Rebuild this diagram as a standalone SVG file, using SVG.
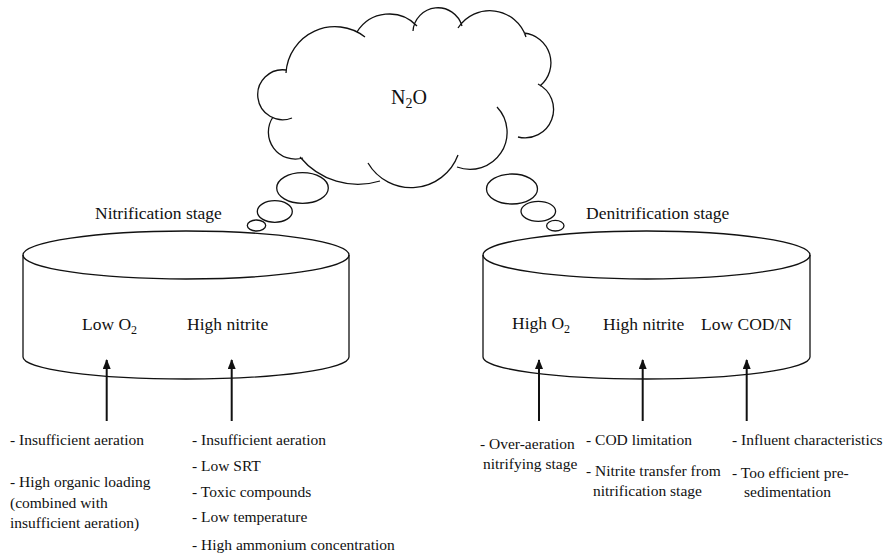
<svg xmlns="http://www.w3.org/2000/svg" width="887" height="556" viewBox="0 0 887 556">
<defs>
<style>
.ln{fill:none;stroke:#111;stroke-width:1.3}
.t{font-family:"Liberation Serif","Times New Roman",serif;fill:#111}
.lb{font-size:17.5px}
.sm{font-size:15.5px}
.ar{stroke:#111;stroke-width:2;fill:none}
</style>
<marker id="ah" viewBox="0 0 10 8" refX="9" refY="4" markerWidth="10" markerHeight="8" markerUnits="userSpaceOnUse" orient="auto">
<path d="M0,0 L10,4 L0,8 z" fill="#111"/>
</marker>
</defs>
<rect width="887" height="556" fill="#fff"/>
<g id="cloud">
<path class="ln" d="M286,73 A49,49 0 0 1 365,37 M357,32 A38,38 0 0 1 417,26 M413,31 A25,25 0 0 1 462,26 M458,28 A38,38 0 0 1 526,37 M524,33 A30,30 0 0 1 540,86 M538,84 A28.5,28.5 0 0 1 518,137 M497,107 A37,37 0 0 1 457,167 M458,155 A50,50 0 0 1 368,163 M380,181 A75,75 0 0 1 300,157 M303,158 A27,27 0 0 1 273,117 M292,118 A25,25 0 1 1 286,70"/>
<text class="t" x="391" y="104" font-size="20">N<tspan font-size="14" dy="4">2</tspan><tspan dy="-4">O</tspan></text>
</g>
<g id="bubbles-left">
<ellipse class="ln" cx="302.5" cy="188" rx="25.8" ry="15.3"/>
<ellipse class="ln" cx="274.8" cy="211.5" rx="17.5" ry="10.8"/>
<ellipse class="ln" cx="256.5" cy="225.5" rx="9.2" ry="5.5"/>
</g>
<g id="bubbles-right">
<ellipse class="ln" cx="512" cy="189" rx="25.5" ry="15"/>
<ellipse class="ln" cx="538.3" cy="211.3" rx="17.3" ry="10"/>
<ellipse class="ln" cx="555.3" cy="225.7" rx="8.7" ry="5.3"/>
</g>
<g id="nitrification">
<text class="t lb" x="95" y="219">Nitrification stage</text>
<ellipse class="ln" cx="186" cy="255" rx="163" ry="24"/>
<path class="ln" d="M23,255 L23,357 A163,22 0 0 0 349,357 L349,255"/>
<text class="t lb" x="82" y="330">Low O<tspan font-size="12" dy="4">2</tspan></text>
<text class="t lb" x="187" y="330">High nitrite</text>
</g>
<g id="denitrification">
<text class="t lb" x="586" y="219">Denitrification stage</text>
<ellipse class="ln" cx="646.5" cy="255" rx="163.5" ry="24"/>
<path class="ln" d="M483,255 L483,357 A163.5,22 0 0 0 810,357 L810,255"/>
<text class="t lb" x="512" y="329">High O<tspan font-size="12" dy="4">2</tspan></text>
<text class="t lb" x="603" y="330">High nitrite</text>
<text class="t lb" x="701" y="330">Low COD/N</text>
</g>
<g id="connectors">
<line class="ar" x1="106.7" y1="421" x2="106.7" y2="360" marker-end="url(#ah)"/>
<line class="ar" x1="231.7" y1="421" x2="231.7" y2="360" marker-end="url(#ah)"/>
<line class="ar" x1="539" y1="421" x2="539" y2="360" marker-end="url(#ah)"/>
<line class="ar" x1="642.7" y1="421" x2="642.7" y2="360" marker-end="url(#ah)"/>
<line class="ar" x1="746.7" y1="421" x2="746.7" y2="360" marker-end="url(#ah)"/>
</g>
<g id="causes-low-o2">
<text class="t sm" x="10" y="445">- Insufficient aeration</text>
<text class="t sm" x="10" y="487">- High organic loading</text>
<text class="t sm" x="10" y="508">(combined with</text>
<text class="t sm" x="10" y="528">insufficient aeration)</text>
</g>
<g id="causes-high-nitrite-1">
<text class="t sm" x="192" y="445">- Insufficient aeration</text>
<text class="t sm" x="192" y="471">- Low SRT</text>
<text class="t sm" x="192" y="497">- Toxic compounds</text>
<text class="t sm" x="192" y="522">- Low temperature</text>
<text class="t sm" x="192" y="550">- High ammonium concentration</text>
</g>
<g id="causes-high-o2">
<text class="t sm" x="480" y="449">- Over-aeration</text>
<text class="t sm" x="483" y="469">nitrifying stage</text>
</g>
<g id="causes-high-nitrite-2">
<text class="t sm" x="586" y="445">- COD limitation</text>
<text class="t sm" x="586" y="476">- Nitrite transfer from</text>
<text class="t sm" x="593" y="496">nitrification stage</text>
</g>
<g id="causes-low-codn">
<text class="t sm" x="732" y="445">- Influent characteristics</text>
<text class="t sm" x="732" y="478">- Too efficient pre-</text>
<text class="t sm" x="744" y="497">sedimentation</text>
</g>
</svg>
